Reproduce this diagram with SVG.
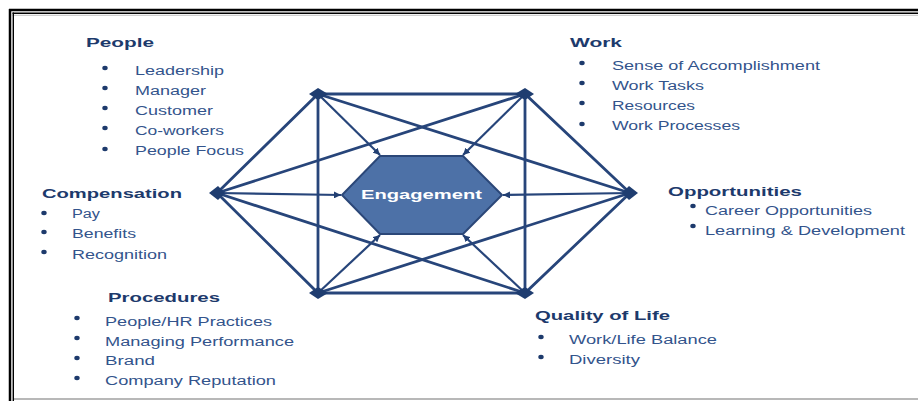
<svg xmlns="http://www.w3.org/2000/svg" width="918" height="401" viewBox="0 0 918 401">
<defs>
<marker id="arr" markerWidth="7" markerHeight="7" refX="7" refY="3.5" orient="auto" markerUnits="userSpaceOnUse">
<path d="M0,0 L7,3.5 L0,7 z" fill="#223f72"/>
</marker>
</defs>
<style>
.h{font-family:"Liberation Sans",Arial,sans-serif;font-weight:bold;font-size:13.5px;fill:#1d3a6c}
.i{font-family:"Liberation Sans",Arial,sans-serif;font-size:12.5px;fill:#33548c}
.b{fill:#1d3a6c}
.ln{stroke:#27457a;stroke-width:2.8;fill:none;stroke-linecap:round}
.ar{stroke:#27457a;stroke-width:2.2;fill:none;marker-end:url(#arr)}
.v{fill:#1f3d70}
</style>
<rect x="0" y="0" width="918" height="401" fill="#ffffff"/>
<g id="frame">
<line x1="9" y1="10" x2="918" y2="10" stroke="#000" stroke-width="2.5"/>
<line x1="12.5" y1="13.3" x2="918" y2="13.3" stroke="#000" stroke-width="1.4"/>
<line x1="12.5" y1="15.3" x2="918" y2="15.3" stroke="#b0b0b0" stroke-width="0.8"/>
<line x1="10" y1="9" x2="10" y2="401" stroke="#000" stroke-width="2.5"/>
<line x1="13.3" y1="12.5" x2="13.3" y2="401" stroke="#000" stroke-width="1.4"/>
<line x1="14" y1="399" x2="918" y2="399" stroke="#a0a0a0" stroke-width="1.6"/>
</g>
<g id="connectors">
<polygon class="ln" points="318,94 525,94 630,193 525,293 318,293 217,193"/>
<line class="ln" x1="318" y1="94" x2="318" y2="293"/>
<line class="ln" x1="525" y1="94" x2="525" y2="293"/>
<line class="ln" x1="318" y1="94" x2="630" y2="193"/>
<line class="ln" x1="525" y1="94" x2="217" y2="193"/>
<line class="ln" x1="318" y1="293" x2="630" y2="193"/>
<line class="ln" x1="525" y1="293" x2="217" y2="193"/>
<line class="ar" x1="318" y1="94" x2="380" y2="155"/>
<line class="ar" x1="525" y1="94" x2="463" y2="155"/>
<line class="ar" x1="217" y1="193" x2="341" y2="195"/>
<line class="ar" x1="630" y1="193" x2="503" y2="195"/>
<line class="ar" x1="318" y1="293" x2="380" y2="235"/>
<line class="ar" x1="525" y1="293" x2="463" y2="235"/>
</g>
<g id="vertices">
<polygon class="v" points="309,94 318,88 328,94 318,100"/>
<polygon class="v" points="515,94 525,88 534,94 525,100"/>
<polygon class="v" points="209,193 218,186 225,193 218,200"/>
<polygon class="v" points="622,193 629,186 638,193 629,200"/>
<polygon class="v" points="309,293 318,287 328,293 318,299"/>
<polygon class="v" points="515,293 525,287 534,293 525,299"/>
</g>
<g id="node-engagement">
<polygon points="380,156 463,156 502,195 463,234 380,234 342,195" fill="#4d71a7" stroke="#2b4778" stroke-width="2"/>
<text x="361" y="199" class="h" style="fill:#ffffff" textLength="121" lengthAdjust="spacingAndGlyphs">Engagement</text>
</g>
<g id="node-people">
<text x="86" y="47" class="h" textLength="68" lengthAdjust="spacingAndGlyphs">People</text>
<ellipse class="b" cx="105" cy="68" rx="2.7" ry="2.2"/>
<ellipse class="b" cx="105" cy="88" rx="2.7" ry="2.2"/>
<ellipse class="b" cx="105" cy="108" rx="2.7" ry="2.2"/>
<ellipse class="b" cx="105" cy="128" rx="2.7" ry="2.2"/>
<ellipse class="b" cx="105" cy="149" rx="2.7" ry="2.2"/>
<text x="135" y="75" class="i" textLength="89" lengthAdjust="spacingAndGlyphs">Leadership</text>
<text x="135" y="95" class="i" textLength="71" lengthAdjust="spacingAndGlyphs">Manager</text>
<text x="135" y="115" class="i" textLength="78" lengthAdjust="spacingAndGlyphs">Customer</text>
<text x="135" y="135" class="i" textLength="89" lengthAdjust="spacingAndGlyphs">Co-workers</text>
<text x="135" y="155" class="i" textLength="109" lengthAdjust="spacingAndGlyphs">People Focus</text>
</g>
<g id="node-work">
<text x="570" y="47" class="h" textLength="52" lengthAdjust="spacingAndGlyphs">Work</text>
<ellipse class="b" cx="582" cy="63" rx="2.7" ry="2.2"/>
<ellipse class="b" cx="582" cy="83" rx="2.7" ry="2.2"/>
<ellipse class="b" cx="582" cy="103" rx="2.7" ry="2.2"/>
<ellipse class="b" cx="582" cy="124" rx="2.7" ry="2.2"/>
<text x="612" y="70" class="i" textLength="208" lengthAdjust="spacingAndGlyphs">Sense of Accomplishment</text>
<text x="612" y="90" class="i" textLength="92" lengthAdjust="spacingAndGlyphs">Work Tasks</text>
<text x="612" y="110" class="i" textLength="83" lengthAdjust="spacingAndGlyphs">Resources</text>
<text x="612" y="130" class="i" textLength="128" lengthAdjust="spacingAndGlyphs">Work Processes</text>
</g>
<g id="node-compensation">
<text x="42" y="198" class="h" textLength="140" lengthAdjust="spacingAndGlyphs">Compensation</text>
<ellipse class="b" cx="44" cy="213" rx="2.7" ry="2.2"/>
<ellipse class="b" cx="44" cy="232" rx="2.7" ry="2.2"/>
<ellipse class="b" cx="44" cy="252" rx="2.7" ry="2.2"/>
<text x="72" y="218" class="i" textLength="28" lengthAdjust="spacingAndGlyphs">Pay</text>
<text x="72" y="238" class="i" textLength="64" lengthAdjust="spacingAndGlyphs">Benefits</text>
<text x="72" y="259" class="i" textLength="95" lengthAdjust="spacingAndGlyphs">Recognition</text>
</g>
<g id="node-opportunities">
<text x="668" y="196" class="h" textLength="134" lengthAdjust="spacingAndGlyphs">Opportunities</text>
<ellipse class="b" cx="693" cy="206" rx="2.7" ry="2.2"/>
<ellipse class="b" cx="693" cy="226" rx="2.7" ry="2.2"/>
<text x="705" y="215" class="i" textLength="167" lengthAdjust="spacingAndGlyphs">Career Opportunities</text>
<text x="705" y="235" class="i" textLength="200" lengthAdjust="spacingAndGlyphs">Learning &amp; Development</text>
</g>
<g id="node-procedures">
<text x="108" y="302" class="h" textLength="112" lengthAdjust="spacingAndGlyphs">Procedures</text>
<ellipse class="b" cx="77" cy="318" rx="2.7" ry="2.2"/>
<ellipse class="b" cx="77" cy="338" rx="2.7" ry="2.2"/>
<ellipse class="b" cx="77" cy="358" rx="2.7" ry="2.2"/>
<ellipse class="b" cx="77" cy="378" rx="2.7" ry="2.2"/>
<text x="105" y="326" class="i" textLength="167" lengthAdjust="spacingAndGlyphs">People/HR Practices</text>
<text x="105" y="346" class="i" textLength="189" lengthAdjust="spacingAndGlyphs">Managing Performance</text>
<text x="105" y="365" class="i" textLength="50" lengthAdjust="spacingAndGlyphs">Brand</text>
<text x="105" y="385" class="i" textLength="171" lengthAdjust="spacingAndGlyphs">Company Reputation</text>
</g>
<g id="node-quality">
<text x="535" y="320" class="h" textLength="135" lengthAdjust="spacingAndGlyphs">Quality of Life</text>
<ellipse class="b" cx="541" cy="337" rx="2.7" ry="2.2"/>
<ellipse class="b" cx="541" cy="357" rx="2.7" ry="2.2"/>
<text x="569" y="344" class="i" textLength="148" lengthAdjust="spacingAndGlyphs">Work/Life Balance</text>
<text x="569" y="364" class="i" textLength="71" lengthAdjust="spacingAndGlyphs">Diversity</text>
</g>
</svg>
